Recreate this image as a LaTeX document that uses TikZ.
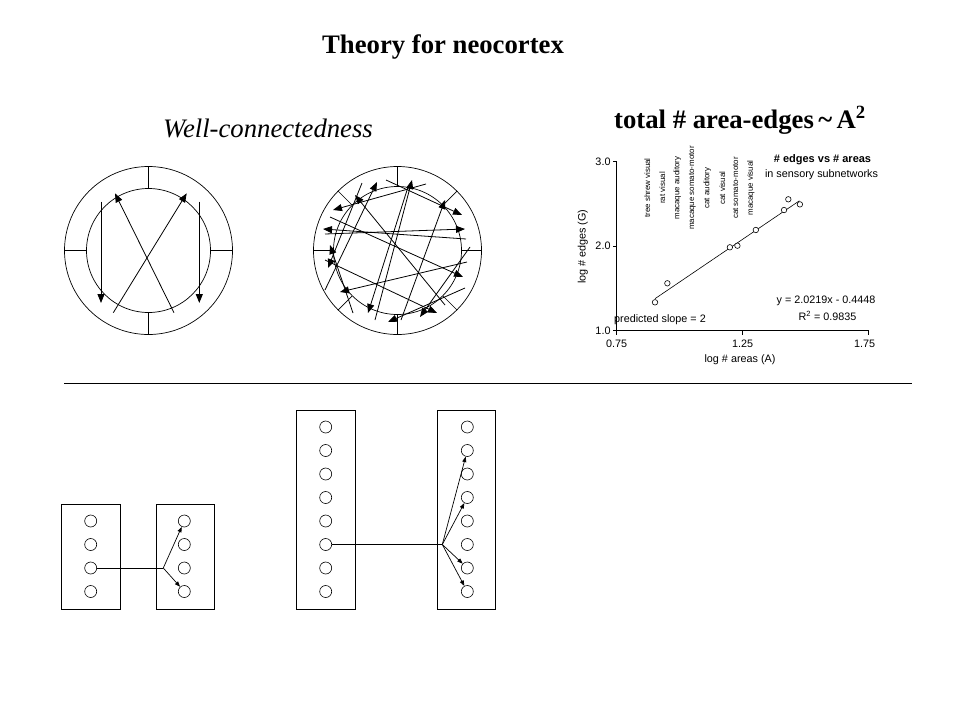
\documentclass[tikz,border=0pt]{standalone}
\usepackage{fontspec}
\setmainfont{Liberation Serif}
\newfontfamily\arial{Liberation Sans}
\usetikzlibrary{arrows.meta,calc}
\tikzset{
  bigarrow/.style={-{Triangle[length=9pt,width=7pt]}, line width=0.8pt},
  smallarrow/.style={-{Triangle[length=5.5pt,width=4pt]}, line width=0.7pt},
  ring/.style={line width=0.7pt},
  cell/.style={circle, draw, minimum size=12pt, inner sep=0pt, line width=0.6pt},
  cellbox/.style={draw, line width=0.8pt},
  chartlab/.style={font=\arial\fontsize{10.8}{12}\selectfont, inner sep=0pt},
  vlab/.style={font=\arial\fontsize{7.9}{9}\selectfont, rotate=90, inner sep=0pt},
  datapt/.style={circle, draw, minimum size=5.5pt, inner sep=0pt, line width=0.6pt, fill=white},
  headline/.style={font=\fontsize{26.7}{30}\selectfont\bfseries, inner sep=0pt},
}
\begin{document}
\begin{tikzpicture}[x=1pt,y=-1pt]
\useasboundingbox (0,0) rectangle (960,720);
\fill[white] (0,0) rectangle (960,720);

% titles
\node[headline] (title) at (443,47) {Theory for neocortex};
\node[font=\fontsize{26.7}{30}\selectfont\itshape, inner sep=0pt] (well) at (268,128) {Well-connectedness};
\node[headline, anchor=base] (total) at (740,128) {total \# area-edges\,\symbol{126}\,A\textsuperscript{2}};

% ---------- circle 1 ----------
\coordinate (c1) at (148.5,250.5);
\draw[ring] (c1) circle[radius=84];
\draw[ring] (c1) circle[radius=62];
\foreach \a in {0,90,180,270}
  \draw[ring] ($(c1)+(\a:62)$) -- ($(c1)+(\a:84)$);
\draw[bigarrow] (101,201.7) -- (101,303);
\draw[bigarrow] (199.3,201.7) -- (199.3,303);
\draw[bigarrow] (174,312.7) -- (115,193.3);
\draw[bigarrow] (113.3,312.7) -- (186.7,193.3);

% ---------- circle 2 ----------
\coordinate (c2) at (397.5,250.5);
\draw[ring] (c2) circle[radius=84];
\draw[ring] (c2) circle[radius=64];
\foreach \a in {0,45,...,315}
  \draw[ring] ($(c2)+(\a:64)$) -- ($(c2)+(\a:84)$);
\foreach \sx/\sy/\ex/\ey in {
  426/184/333/210,
  386/180/462/215,
  325/234/465/229,
  466/239/323/229,
  445/305/355/195,
  325/260/437/313,
  330/217/463/277,
  325/290/377/182,
  375/320/412/180,
  408/187/368/313,
  401/320/445/200,
  465/288/388/322,
  470/247/420/317,
  467/262/340/292,
  362/183/328/268,
  353/313/330/245}
  \draw[bigarrow] (\sx,\sy) -- (\ex,\ey);

% ---------- chart ----------
\begin{scope}[x=252pt,y=84.5pt,shift={(427.7pt,-415.2pt)}]
  \draw[line width=0.8pt] (0.75,3) -- (0.75,1) -- (1.75,1);
  \foreach \v in {1,2,3} \draw[line width=0.8pt] (0.75,\v) -- ++(-4pt,0);
  \foreach \v in {0.75,1.25,1.75} \draw[line width=0.8pt] (\v,1) -- ++(0,-4pt);
  \node[chartlab, anchor=east] (y3) at ([xshift=-6pt]0.75,3) {3.0};
  \node[chartlab, anchor=east] (y2) at ([xshift=-6pt]0.75,2) {2.0};
  \node[chartlab, anchor=east] (y1) at ([xshift=-6pt]0.75,1) {1.0};
  \node[chartlab] (x1) at ([yshift=-13pt]0.75,1) {0.75};
  \node[chartlab] (x2) at ([yshift=-13pt]1.25,1) {1.25};
  \node[chartlab] (x3) at ([yshift=-13pt,xshift=-4pt]1.75,1) {1.75};
  \draw[line width=0.6pt] (0.902,{2.0219*0.902-0.4448}) -- (1.475,{2.0219*1.475-0.4448});
  \foreach \px/\py in {0.902/1.336, 0.951/1.561, 1.199/1.987, 1.229/2.006,
                       1.302/2.192, 1.414/2.428, 1.431/2.555, 1.477/2.495}
    \node[datapt] at (\px,\py) {};
\end{scope}
\node[chartlab] (xlab) at (740,360) {log \# areas (A)};
\node[chartlab, rotate=90] (ylab) at (582.7,246.7) {log \# edges (G)};
\node[chartlab, font=\arial\bfseries\fontsize{11}{12}\selectfont] (leg1) at (822.5,159.3) {\# edges vs \# areas};
\node[chartlab] (leg2) at (821.5,174.3) {in sensory subnetworks};
\node[chartlab] (eq1) at (826,301) {y = 2.0219x - 0.4448};
\node[chartlab] (eq2) at (827.5,315.7) {R\textsuperscript{2} = 0.9835};
\node[chartlab] (pred) at (660,320) {predicted slope = 2};
\foreach \xx/\lab in {647.3/tree shrew visual, 662.3/rat visual, 677.3/macaque auditory,
    692.3/macaque somato-motor, 707.3/cat auditory, 722.3/cat visual,
    735.7/cat somato-motor, 750.7/macaque visual}
  \node[vlab] at (\xx,188) {\lab};

% separator
\draw[line width=0.8pt] (64,383) -- (912,383);

% ---------- bottom boxes ----------
\draw[cellbox] (61.7,504) rectangle (120,609);
\draw[cellbox] (156,504) rectangle (214.3,609);
\draw[cellbox] (296.7,410.7) rectangle (355,609);
\draw[cellbox] (437.3,410.7) rectangle (495,609);

\foreach \i/\yy in {1/521,2/544.5,3/568,4/591.5} {
  \node[cell] (a\i) at (90.7,\yy) {};
  \node[cell] (b\i) at (184.3,\yy) {};
}
\foreach \i/\yy in {1/427,2/450.5,3/474,4/497.5,5/521,6/544.5,7/568,8/591.5} {
  \node[cell] (p\i) at (325.7,\yy) {};
  \node[cell] (q\i) at (467.3,\yy) {};
}
\coordinate (j1) at (163.3,568);
\coordinate (j2) at (442.3,544.5);
\draw[line width=0.7pt] (a3) -- (j1);
\draw[smallarrow] (j1) -- (b1);
\draw[smallarrow] (j1) -- (b4);
\draw[line width=0.7pt] (p6) -- (j2);
\foreach \t in {2,4,7,8}
  \draw[smallarrow] (j2) -- (q\t);
\end{tikzpicture}
\end{document}
